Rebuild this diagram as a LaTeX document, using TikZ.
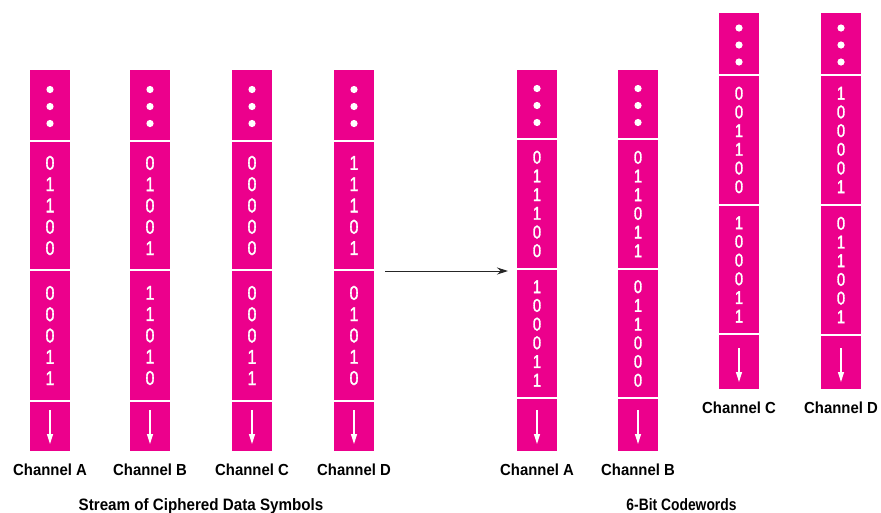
\documentclass[tikz,border=0pt]{standalone}
\usepackage{fontspec}
\setmainfont{Liberation Sans}
\newfontfamily\digfont[FakeStretch=0.8,FakeBold=1.5]{Liberation Sans}
\newfontfamily\lblfont[FakeStretch=0.93]{Liberation Sans}
\newfontfamily\ttlAfont[FakeStretch=0.92]{Liberation Sans}
\newfontfamily\ttlBfont[FakeStretch=0.84]{Liberation Sans}
\usetikzlibrary{arrows.meta,calc}
\definecolor{mag}{HTML}{EC008C}
\tikzset{
  sect/.style={fill=mag, draw=none, minimum width=40pt, inner sep=0pt, outer sep=0pt},
  sepline/.style={draw=white, line width=1.6pt},
  dotmark/.style={fill=white},
  downarr/.style={draw=white, line width=1.2pt, -{Triangle[length=10pt,width=6pt]}},
  digits/.style={text=white, align=center, font=\digfont\fontsize{20}{21.3}\selectfont, inner sep=0pt},
  chlabel/.style={font=\lblfont\bfseries\fontsize{16}{18}\selectfont, inner sep=0pt, anchor=base},
  ttlA/.style={font=\ttlAfont\bfseries\fontsize{16.5}{20}\selectfont, inner sep=0pt, anchor=base},
  ttlB/.style={font=\ttlBfont\bfseries\fontsize{16.5}{20}\selectfont, inner sep=0pt, anchor=base},
  mainarr/.style={draw=black!85, line width=1pt, -{Stealth[length=11pt,width=7pt]}},
}
% #1 name, #2 x centre, #3 top, #4 sep1, #5 sep2, #6 sep3, #7 bottom, #8 word1, #9 word2
\newcommand\chancol[9]{%
  \node[sect, minimum height={#4-#3}] (#1-dots) at (#2,{(#3+#4)/2}) {};
  \node[sect, minimum height={#5-#4}] (#1-w1) at (#2,{(#4+#5)/2}) {};
  \node[sect, minimum height={#6-#5}] (#1-w2) at (#2,{(#5+#6)/2}) {};
  \node[sect, minimum height={#7-#6}] (#1-arr) at (#2,{(#6+#7)/2}) {};
  \draw[sepline] (#1-dots.south west) -- (#1-dots.south east);
  \draw[sepline] (#1-w1.south west) -- (#1-w1.south east);
  \draw[sepline] (#1-w2.south west) -- (#1-w2.south east);
  \foreach \k in {-17,0,17} {\fill[dotmark] ($(#1-dots.center)+(0,\k+1)$) circle (3.6pt);}
  \node[digits] (#1-d1) at (#1-w1.center) {#8};
  \node[digits] (#1-d2) at (#1-w2.center) {#9};
  \draw[downarr] ($(#1-arr.south)+(0,-41)$) -- ($(#1-arr.south)+(0,-7)$);
}
\begin{document}
\begin{tikzpicture}[x=1pt,y=-1pt]
  \useasboundingbox (0,0) rectangle (881,512);
  % left group
  \chancol{LA}{50}{70}{141}{270}{401}{451}{0\\1\\1\\0\\0}{0\\0\\0\\1\\1}
  \chancol{LB}{150}{70}{141}{270}{401}{451}{0\\1\\0\\0\\1}{1\\1\\0\\1\\0}
  \chancol{LC}{252}{70}{141}{270}{401}{451}{0\\0\\0\\0\\0}{0\\0\\0\\1\\1}
  \chancol{LD}{354}{70}{141}{270}{401}{451}{1\\1\\1\\0\\1}{0\\1\\0\\1\\0}
  \node[chlabel] (LA-lbl) at ($(LA-arr.south)+(0,24.5)$) {Channel A};
  \node[chlabel] (LB-lbl) at ($(LB-arr.south)+(0,24.5)$) {Channel B};
  \node[chlabel] (LC-lbl) at ($(LC-arr.south)+(0,24.5)$) {Channel C};
  \node[chlabel] (LD-lbl) at ($(LD-arr.south)+(0,24.5)$) {Channel D};
  \node[ttlA] (ttlL) at (201,510) {Stream of Ciphered Data Symbols};
  % right group
  \tikzset{digits/.style={text=white, align=center, font=\digfont\fontsize{18.5}{18.7}\selectfont, inner sep=0pt}}
  \chancol{RA}{537}{70}{139}{269}{398}{451}{0\\1\\1\\1\\0\\0}{1\\0\\0\\0\\1\\1}
  \chancol{RB}{638}{70}{139}{269}{398}{451}{0\\1\\1\\0\\1\\1}{0\\1\\1\\0\\0\\0}
  \chancol{RC}{739}{13}{75}{205}{334}{389}{0\\0\\1\\1\\0\\0}{1\\0\\0\\0\\1\\1}
  \chancol{RD}{841}{13}{75}{205}{335}{389}{1\\0\\0\\0\\0\\1}{0\\1\\1\\0\\0\\1}
  \node[chlabel] (RA-lbl) at ($(RA-arr.south)+(0,24.5)$) {Channel A};
  \node[chlabel] (RB-lbl) at ($(RB-arr.south)+(0,24.5)$) {Channel B};
  \node[chlabel] (RC-lbl) at ($(RC-arr.south)+(0,24.5)$) {Channel C};
  \node[chlabel] (RD-lbl) at ($(RD-arr.south)+(0,24.5)$) {Channel D};
  \node[ttlB] (ttlR) at (681.5,510) {6-Bit Codewords};
  % main arrow
  \coordinate (arrS) at ($(LD-w1.south east)+(11,1)$);
  \coordinate (arrE) at ($(arrS -| RA-w1.west)+(-9,0)$);
  \draw[mainarr] (arrS) -- (arrE);
\end{tikzpicture}
\end{document}
